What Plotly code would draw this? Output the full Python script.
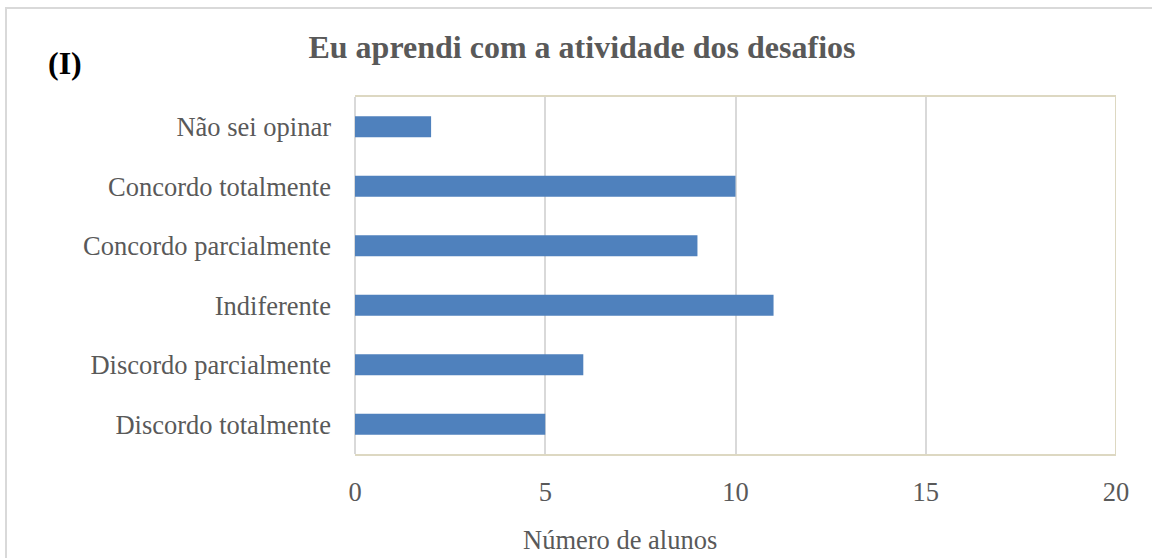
import plotly.graph_objects as go

# Survey answers, bottom to top
categories = [
    "Discordo totalmente",
    "Discordo parcialmente",
    "Indiferente",
    "Concordo parcialmente",
    "Concordo totalmente",
    "Não sei opinar",
]
students = [5, 6, 11, 9, 10, 2]
x_ticks = [0, 5, 10, 15, 20]

BAR = "#4F81BD"
TEXT = "#595959"
GRID = "#D9D9D9"
FRAME = "#DDD8C2"
FONT = "Liberation Serif, Times New Roman, serif"
SIZE = 26.5

W, H = 1152, 558
L, R, T, B = 355, 36, 97, 104
pw, ph = W - L - R, H - T - B

fig = go.Figure(
    go.Bar(
        x=students,
        y=categories,
        orientation="h",
        marker=dict(color=BAR, line=dict(width=0)),
        width=0.35,
    )
)

fig.update_layout(
    width=W,
    height=H,
    margin=dict(l=L, r=R, t=T, b=B),
    paper_bgcolor="white",
    plot_bgcolor="white",
    showlegend=False,
    font=dict(family=FONT, size=SIZE, color=TEXT),
    title=dict(
        text="<b>Eu aprendi com a atividade dos desafios</b>",
        font=dict(family=FONT, size=32, color=TEXT),
        x=582 / W,
        xanchor="center",
        y=1 - 47 / H,
        yanchor="middle",
    ),
    xaxis=dict(
        range=[0, 20],
        tickvals=x_ticks,
        ticktext=[str(v) for v in x_ticks],
        showgrid=True,
        gridcolor=GRID,
        gridwidth=1.5,
        zeroline=True,
        zerolinecolor=GRID,
        zerolinewidth=2,
        showline=True,
        linecolor=FRAME,
        linewidth=2,
        mirror=True,
        ticks="",
        ticklabelstandoff=13,
        tickfont=dict(family=FONT, size=SIZE, color=TEXT),
        fixedrange=True,
    ),
    yaxis=dict(
        categoryorder="array",
        categoryarray=categories,
        range=[-0.5, len(categories) - 0.5],
        showgrid=False,
        zeroline=False,
        showline=False,
        ticks="",
        ticklabelstandoff=23,
        tickfont=dict(family=FONT, size=SIZE, color=TEXT),
        fixedrange=True,
    ),
    shapes=[
        # right edge of the plot frame
        dict(type="line", xref="x", yref="paper", x0=20, x1=20, y0=0, y1=1,
             line=dict(color=FRAME, width=2), layer="above"),
        # outer chart border
        dict(type="rect", xref="paper", yref="paper",
             x0=(6 - L) / pw, x1=(W + 10 - L) / pw,
             y0=-(H + 10 - T - ph) / ph, y1=1 + (T - 8) / ph,
             line=dict(color="#D9D9D9", width=2), layer="below"),
    ],
    annotations=[
        dict(text="<b>(I)</b>", xref="paper", yref="paper",
             x=(46 - L) / pw, y=1 + (T - 63) / ph,
             xanchor="left", yanchor="middle", showarrow=False,
             font=dict(family=FONT, size=32, color="#000000")),
        # horizontal axis title
        dict(text="Número de alunos", xref="paper", yref="paper",
             x=(620 - L) / pw, y=-(540 - T - ph) / ph,
             xanchor="center", yanchor="middle", showarrow=False,
             font=dict(family=FONT, size=SIZE, color=TEXT)),
    ],
)

fig.write_html("out.html")
